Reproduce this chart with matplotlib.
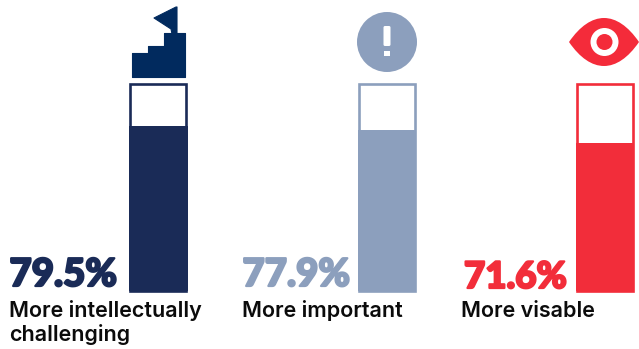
#! /usr/bin/env python
# three "thermometer" bars with icons on top
import matplotlib.pyplot as plt
import matplotlib.patheffects as pe
from matplotlib.patches import Circle, Polygon, PathPatch, FancyBboxPatch
from matplotlib.path import Path

W, H = 639, 349

labels = ['More intellectually\nchallenging', 'More important', 'More visable']
values = [79.5, 77.9, 71.6]
value_text = ['79.5%', '77.9%', '71.6%']
colors = ['#1a2b57', '#8c9fbd', '#f22d3a']
icon_colors = ['#012a5e', '#8c9fbd', '#f42b3a']
bar_centers = [158.3, 386.8, 604.8]
text_left = [9, 242, 461]
value_left = [9.5, 242.5, 464]
value_base = [286, 286, 288]
value_size = [27.6, 27.6, 26.4]

plt.rcParams['font.family'] = ['Inter', 'Lato', 'DejaVu Sans']

fig = plt.figure(figsize=(W / 100, H / 100), dpi=100, facecolor='white')

# bars: 0-100 runs from y=291 up to y=84 in picture pixels
ax = fig.add_axes([0, (H - 291) / H, 1, 207 / H])
ax.set_xlim(0, W)
ax.set_ylim(0, 100)
ax.axis('off')
ax.bar(bar_centers, [100] * 3, width=56, facecolor='white', edgecolor=colors, linewidth=1.9, clip_on=False)
ax.bar(bar_centers, values, width=58.6, color=colors, linewidth=0, clip_on=False)

# overlay in pixel coordinates for text and icons
ov = fig.add_axes([0, 0, 1, 1])
ov.set_xlim(0, W)
ov.set_ylim(H, 0)
ov.axis('off')
ov.patch.set_alpha(0)

for left, base, txt, col, size in zip(value_left, value_base, value_text, colors, value_size):
    ov.text(left, base, txt, color=col, fontsize=size, fontweight='black', family=['Lato', 'DejaVu Sans'],
            va='baseline', ha='left',
            path_effects=[pe.withStroke(linewidth=1.6, foreground=col)])

for left, lab in zip(text_left, labels):
    first = lab.split('\n')
    for i, line in enumerate(first):
        ov.text(left, 317 + i * 24, line, color='#0b0b0b', fontsize=15.5, fontweight='semibold',
                va='baseline', ha='left')

# stairs + flag
stairs = [(132, 77), (132, 53), (148, 53), (148, 46), (164, 46), (164, 33), (185, 33), (185, 77)]
flag = [(154, 18), (176, 7), (177, 7), (177, 34), (172, 34), (171, 29)]
ov.add_patch(Polygon(stairs, closed=True, color=icon_colors[0], lw=0.8, joinstyle='round'))
ov.add_patch(Polygon(flag, closed=True, color=icon_colors[0], lw=0.8, joinstyle='round'))

# circle with exclamation mark
ov.add_patch(Circle((387, 42), 30, color=icon_colors[1], lw=0))
ov.add_patch(FancyBboxPatch((383.5, 26), 7, 20, boxstyle='round,pad=0,rounding_size=1.5', color='white', lw=0))
ov.add_patch(Polygon([(384, 50.5), (390, 50.5), (390, 55.5), (384, 55.5)], closed=True, color='white', lw=0))

# eye
eye = Path([(569, 42), (580, 26), (592, 18), (604, 18), (616, 18), (628, 26), (639, 42),
            (628, 58), (616, 66), (604, 66), (592, 66), (580, 58), (569, 42)],
           [Path.MOVETO] + [Path.CURVE4] * 12)
ov.add_patch(PathPatch(eye, facecolor=icon_colors[2], lw=0, clip_on=False))
ov.add_patch(Circle((604.5, 42), 14, color='white', lw=0))
ov.add_patch(Circle((604.5, 42), 8, color=icon_colors[2], lw=0))

fig.savefig('out.png', dpi=100)
